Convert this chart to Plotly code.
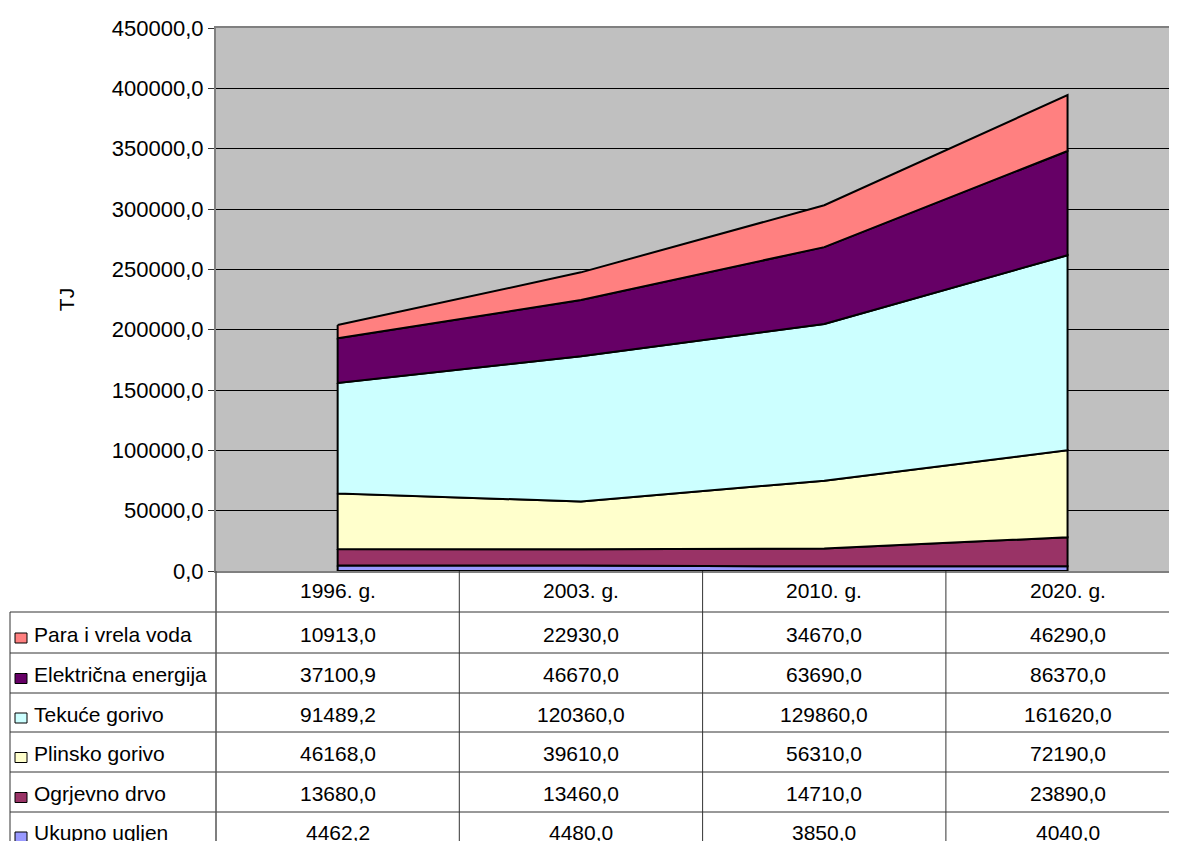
import plotly.graph_objects as go

# data
years = ["1996. g.", "2003. g.", "2010. g.", "2020. g."]
# stacking order, bottom to top
series_names = ["Ukupno ugljen", "Ogrjevno drvo", "Plinsko gorivo",
                "Tekuće gorivo", "Električna energija", "Para i vrela voda"]
ugljen = [4462.2, 4480.0, 3850.0, 4040.0]
drvo = [13680.0, 13460.0, 14710.0, 23890.0]
plin = [46168.0, 39610.0, 56310.0, 72190.0]
tekuce = [91489.2, 120360.0, 129860.0, 161620.0]
struja = [37100.9, 46670.0, 63690.0, 86370.0]
para = [10913.0, 22930.0, 34670.0, 46290.0]
series_values = [ugljen, drvo, plin, tekuce, struja, para]
colors = ["#9999FF", "#993366", "#FFFFCC", "#CCFFFF", "#660066", "#FF8080"]

# page has an 8px body margin, so work in page pixels and shift
OFF = 8
W, H = 1177, 841 - OFF
L, T, B = 216 - OFF, 28 - OFF, 571 - OFF   # plot area in figure px
PH = B - T
PW = W - L
COLW = 243.3                                  # width of one category column


def py(px):  # page pixel y -> paper y
    return (B - (px - OFF)) / PH


def pxx(px):  # page pixel x -> paper x
    return ((px - OFF) - L) / PW


FONT = "Liberation Sans, Arial, sans-serif"
fs = 21

fig = go.Figure()

xs = list(range(len(years)))
base = [0.0] * len(years)
for name, vals, col in zip(series_names, series_values, colors):
    top = [b + v for b, v in zip(base, vals)]
    fig.add_trace(go.Scatter(
        x=xs + xs[::-1] + [xs[0]],
        y=top + base[::-1] + [top[0]],
        fill="toself", fillcolor=col, mode="lines",
        line=dict(color="black", width=2),
        name=name, showlegend=False, hoverinfo="skip",
    ))
    base = top

shapes = []
annotations = []

# table grid
row_lines = [612, 653, 693, 732, 772, 812]
for yl in row_lines:
    shapes.append(dict(type="line", xref="paper", yref="paper",
                       x0=pxx(10), x1=1, y0=py(yl), y1=py(yl),
                       line=dict(color="#333333", width=1)))
shapes.append(dict(type="line", xref="paper", yref="paper",
                   x0=pxx(10), x1=pxx(10), y0=py(612), y1=py(850),
                   line=dict(color="#333333", width=1)))
shapes.append(dict(type="line", xref="paper", yref="paper",
                   x0=0, x1=0, y0=0, y1=py(850),
                   line=dict(color="#555555", width=1.5)))
for i in range(len(years) - 1):
    shapes.append(dict(type="line", xref="x", yref="paper",
                       x0=i + 0.5, x1=i + 0.5, y0=0, y1=py(850),
                       line=dict(color="#333333", width=1)))

# header row
for i, yr in enumerate(years):
    annotations.append(dict(x=i, y=py(590), xref="x", yref="paper",
                            xanchor="center", yanchor="middle",
                            text=yr, showarrow=False,
                            font=dict(size=fs, color="black", family=FONT)))

# data rows: top of table = top of stack
row_centers = [634, 674.5, 714, 753.5, 793.5, 833]
for r, idx in enumerate(range(len(series_names) - 1, -1, -1)):
    yc = row_centers[r]
    shapes.append(dict(type="rect", xref="paper", yref="paper",
                       x0=pxx(15), x1=pxx(27), y0=py(yc - 1), y1=py(yc + 9),
                       fillcolor=colors[idx], line=dict(color="black", width=1)))
    annotations.append(dict(x=pxx(32), y=py(yc), xref="paper", yref="paper",
                            xanchor="left", yanchor="middle",
                            text=series_names[idx], showarrow=False,
                            font=dict(size=fs, color="black", family=FONT)))
    for i, v in enumerate(series_values[idx]):
        annotations.append(dict(x=i, y=py(yc), xref="x", yref="paper",
                                xanchor="center", yanchor="middle",
                                text=f"{v:.1f}".replace(".", ","), showarrow=False,
                                font=dict(size=fs, color="black", family=FONT)))

fig.update_layout(
    width=W, height=H,
    margin=dict(l=L, r=0, t=T, b=H - B, pad=0),
    paper_bgcolor="white", plot_bgcolor="#C0C0C0",
    separators=",.",
    font=dict(family=FONT, size=fs, color="black"),
    shapes=shapes, annotations=annotations,
    xaxis=dict(range=[-0.5, PW / COLW - 0.5], showgrid=False,
               showticklabels=False, zeroline=False, fixedrange=True,
               showline=True, mirror=True, linecolor="#808080", linewidth=2,
               ticks=""),
    yaxis=dict(range=[0, 450000], dtick=50000, tickformat=".1f",
               showgrid=True, gridcolor="black", gridwidth=1,
               zeroline=False, showline=True, linecolor="#808080", linewidth=2,
               ticks="outside", ticklen=6, tickcolor="#333333",
               title=dict(text="TJ", standoff=31, font=dict(size=fs)),
               tickfont=dict(size=22)),
)

fig.write_html("out.html")
